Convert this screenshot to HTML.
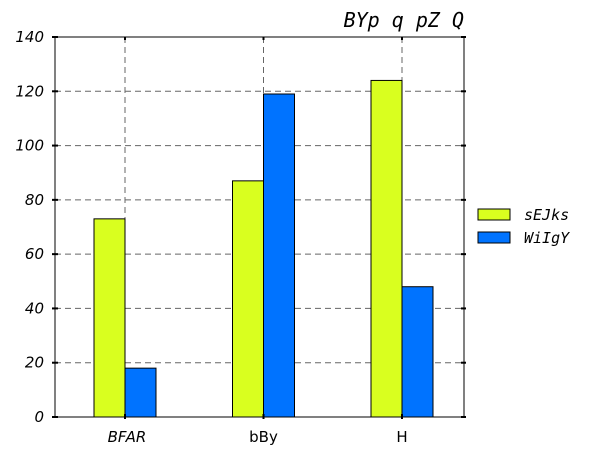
<!DOCTYPE html>
<html><head><meta charset="utf-8"><style>
html,body{margin:0;padding:0;background:#fff;width:608px;height:456px;overflow:hidden}
svg text{font-family:"DejaVu Sans","Liberation Sans",sans-serif}
</style></head><body>
<svg id="chart" width="608" height="456">
<text x="464" y="27" text-anchor="end" font-size="20" font-style="italic" style="font-family:'DejaVu Sans Mono','Liberation Mono',monospace">BYp q pZ Q</text>
<g id="grid"></g>
<g id="bars"></g>
<rect x="55" y="37" width="409" height="380" fill="none" stroke="#000" stroke-width="1"/>
<g id="axes"></g>
<g id="legend"></g>
</svg>
<script>
const categories=["BFAR","bBy","H"];
const catStyles=["italic","normal","normal"];
const seriesNames=["sEJks","WiIgY"];
const seriesA=[73,87,124];
const seriesB=[18,119,48];
const yTicks=[0,20,40,60,80,100,120,140];
const colors=["#d9ff1f","#0073ff"];
const NS="http://www.w3.org/2000/svg";
const X0=55,X1=464,Y0=417,Y1=37,YMAX=140;
const y=v=>Y0-(v/YMAX)*(Y0-Y1);
const xc=i=>X0+70+i*138.5;
function mk(t,a,p){const e=document.createElementNS(NS,t);for(const k in a)e.setAttribute(k,a[k]);p.appendChild(e);return e;}
const grid=document.getElementById('grid'),bars=document.getElementById('bars'),axes=document.getElementById('axes'),leg=document.getElementById('legend');
yTicks.forEach(t=>{
 if(t>0&&t<YMAX){const l=mk('line',{x1:X0,x2:X1,y1:y(t),y2:y(t),stroke:'#666','stroke-dasharray':'6,4'},grid);
 
 }
 const tk=mk('line',{x1:X0-3,x2:X0+3,y1:y(t),y2:y(t),stroke:'#000','stroke-width':2},axes);
 
 
 const tk2=mk('line',{x1:X1-3,x2:X1+2,y1:y(t),y2:y(t),stroke:'#000','stroke-width':2},axes);
 
 
 const tx=mk('text',{x:X0-11,y:y(t)+5,'text-anchor':'end','font-size':15,'font-style':'italic'},axes);
 tx.textContent=t;
 
 
});
const bw=31;
categories.forEach((c,i)=>{
 const cx=xc(i);
 const g=mk('line',{x1:cx,x2:cx,y1:Y1,y2:Y0,stroke:'#666','stroke-dasharray':'6,4'},grid);
 
 
 [seriesA,seriesB].forEach((s,k)=>{
  const r=mk('rect',{x:cx-bw+k*bw,y:y(s[i]),width:bw,height:Y0-y(s[i]),fill:colors[k],stroke:'#000','stroke-width':1},bars);
  
  
 });
 const tk=mk('line',{x1:cx,x2:cx,y1:Y0-3,y2:Y0+2,stroke:'#000','stroke-width':2},axes);
 
 
 const tt=mk('line',{x1:cx,x2:cx,y1:Y1,y2:Y1+3,stroke:'#000','stroke-width':2},axes);
 
 
 const tx=mk('text',{x:cx+(i==0?2:0),y:442,'text-anchor':'middle','font-size':15,'font-style':catStyles[i]},axes);
 tx.textContent=c;
 
 
});
seriesNames.forEach((n,k)=>{
 const yy=209+k*23;
 const r=mk('rect',{x:478,y:yy,width:32,height:11,fill:colors[k],stroke:'#000'},leg);
 
 
 const t=mk('text',{x:524,y:yy+11,'font-size':15,'font-style':'italic',style:"font-family:'DejaVu Sans Mono','Liberation Mono',monospace"},leg);
 t.textContent=n;
 
 
});
</script>
</body></html>
